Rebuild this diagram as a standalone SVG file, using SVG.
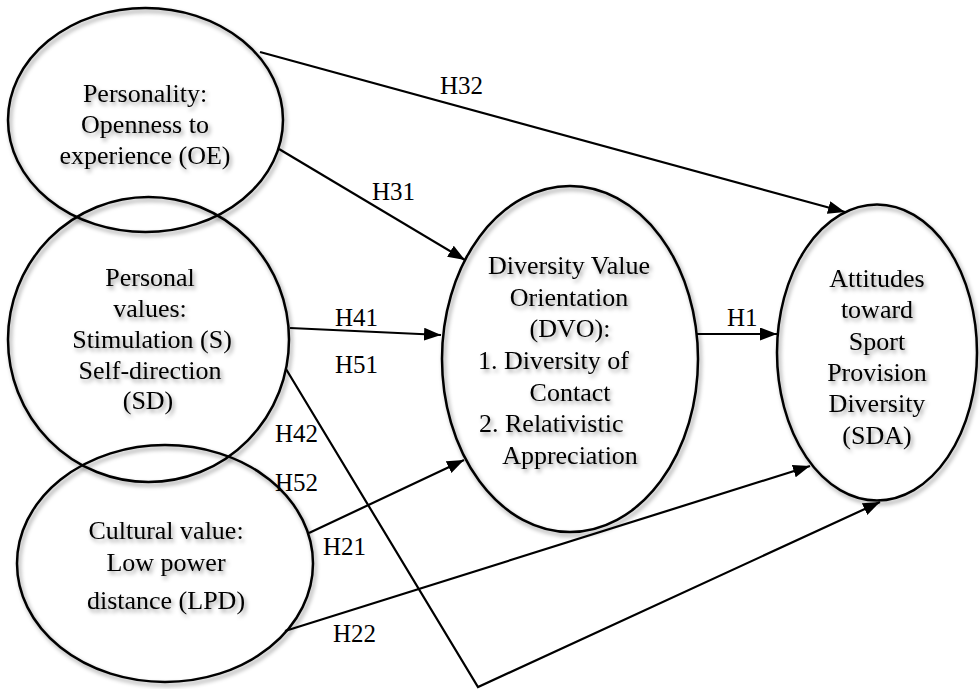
<svg xmlns="http://www.w3.org/2000/svg" width="980" height="689" viewBox="0 0 980 689">
  <defs>
    <filter id="sh" x="-10%" y="-10%" width="125%" height="130%">
      <feDropShadow dx="2" dy="3" stdDeviation="2" flood-color="#000" flood-opacity="0.4"/>
    </filter>
    <marker id="arr" markerUnits="userSpaceOnUse" markerWidth="18" markerHeight="14" refX="17" refY="6.5" orient="auto">
      <path d="M0,0 L17,6.5 L0,13 z" fill="#000"/>
    </marker>
    <style>
      .node ellipse { fill: none; stroke: #000; stroke-width: 2.5; filter: url(#sh); }
      .node text { font-family: "Liberation Serif", "Times New Roman", serif; font-size: 26px; fill: #000; text-anchor: middle; filter: url(#sh); }
      .edge { fill: none; stroke: #000; stroke-width: 2.2; marker-end: url(#arr); }
      .lbl { font-family: "Liberation Serif", "Times New Roman", serif; font-size: 25px; fill: #000; }
    </style>
  </defs>
  <rect width="980" height="689" fill="#fff"/>

  <g id="node-OE" class="node">
    <ellipse cx="145.5" cy="120" rx="137.5" ry="112"/>
    <text x="145" y="102">Personality:</text>
    <text x="145" y="133">Openness to</text>
    <text x="145" y="164">experience (OE)</text>
  </g>

  <g id="node-PV" class="node">
    <ellipse cx="148.5" cy="339.5" rx="140.5" ry="142.5"/>
    <text x="150" y="286">Personal</text>
    <text x="150" y="317">values:</text>
    <text x="152" y="348">Stimulation (S)</text>
    <text x="150" y="379">Self-direction</text>
    <text x="148" y="409">(SD)</text>
  </g>

  <g id="node-LPD" class="node">
    <ellipse cx="165" cy="563.5" rx="148" ry="118.5"/>
    <text x="166" y="539">Cultural value:</text>
    <text x="166" y="571">Low power</text>
    <text x="166" y="609">distance (LPD)</text>
  </g>

  <g id="node-DVO" class="node">
    <ellipse cx="570" cy="359" rx="128" ry="173"/>
    <text x="569" y="274">Diversity Value</text>
    <text x="569" y="306">Orientation</text>
    <text x="570" y="337">(DVO):</text>
    <text x="478" y="369" style="text-anchor:start">1. Diversity of</text>
    <text x="570" y="401">Contact</text>
    <text x="479" y="432" style="text-anchor:start">2. Relativistic</text>
    <text x="570" y="464">Appreciation</text>
  </g>

  <g id="node-SDA" class="node">
    <ellipse cx="877" cy="352.5" rx="100" ry="148"/>
    <text x="877" y="287">Attitudes</text>
    <text x="877" y="318">toward</text>
    <text x="877" y="350">Sport</text>
    <text x="877" y="381">Provision</text>
    <text x="877" y="412">Diversity</text>
    <text x="877" y="444">(SDA)</text>
  </g>

  <g id="connectors">
    <line class="edge" x1="260" y1="52" x2="845" y2="212"/>
    <line class="edge" x1="279" y1="149" x2="465" y2="260"/>
    <line class="edge" x1="290" y1="328" x2="441" y2="335"/>
    <line class="edge" x1="697" y1="334" x2="777" y2="334"/>
    <line class="edge" x1="309" y1="533" x2="464" y2="460"/>
    <line class="edge" x1="285" y1="631" x2="810" y2="466"/>
    <polyline class="edge" points="286,369 478,687 880,502"/>
    <text class="lbl" x="440" y="94">H32</text>
    <text class="lbl" x="372" y="200">H31</text>
    <text class="lbl" x="335" y="326">H41</text>
    <text class="lbl" x="335" y="373">H51</text>
    <text class="lbl" x="727" y="326">H1</text>
    <text class="lbl" x="275" y="442">H42</text>
    <text class="lbl" x="275" y="491">H52</text>
    <text class="lbl" x="323" y="555">H21</text>
    <text class="lbl" x="333" y="642">H22</text>
  </g>
</svg>
